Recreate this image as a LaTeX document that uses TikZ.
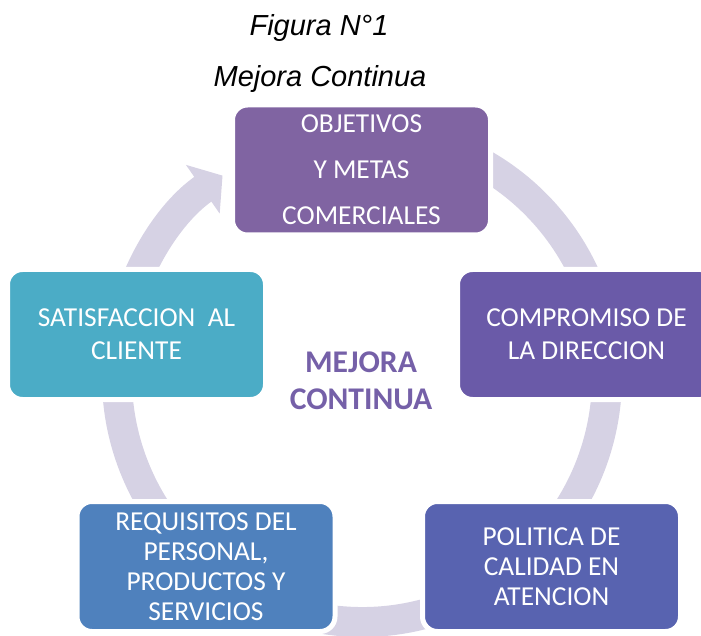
\documentclass[tikz,border=0pt]{standalone}
\usepackage{fontspec}
\setmainfont{Carlito}
\newfontfamily\titlefont{Liberation Sans}
\usetikzlibrary{arrows.meta}
\definecolor{objcol}{HTML}{8064A2}
\definecolor{compcol}{HTML}{6A5AA8}
\definecolor{polcol}{HTML}{5863B0}
\definecolor{reqcol}{HTML}{4F81BD}
\definecolor{satcol}{HTML}{4BACC6}
\definecolor{ringcol}{HTML}{D6D2E4}
\definecolor{mejcol}{HTML}{7560A8}
\begin{document}
\begin{tikzpicture}[x=0.5pt, y=-0.5pt,
    box/.style={draw=white, line width=2.5pt, rounded corners=7.5pt,
      minimum width=129pt, minimum height=65pt, inner sep=0pt,
      text=white, align=center, font=\fontsize{13.7}{16.5}\selectfont},
    ring/.style={draw=ringcol, line width=15pt,
      -{Triangle[length=12pt, width=29pt]}},
    title/.style={anchor=base, font=\titlefont\itshape\fontsize{14.5}{17}\selectfont}]
      \useasboundingbox (0,0) rectangle (701,636);
      \coordinate (ctr) at (362,377);
      % title
      \node[title] (fig) at (319,36) {Figura N°1};
      \node[title] (sub) at (320,87) {Mejora Continua};
      % ring
      \draw[ring] (ctr) ++(80:122.5pt) arc[start angle=80, end angle=-235.3, radius=122.5pt];
      % boxes
      \node[box, fill=objcol, font=\fontsize{13.7}{23}\selectfont] (obj) at (361.5,170) {OBJETIVOS\\Y METAS\\COMERCIALES};
      \node[box, fill=compcol] (comp) at (586.5,334.5) {COMPROMISO DE\\LA DIRECCION};
      \node[box, fill=polcol, font=\fontsize{13.7}{15}\selectfont] (pol) at (551.5,566.5) {POLITICA DE\\CALIDAD EN\\ATENCION};
      \node[box, fill=reqcol, font=\fontsize{13.7}{15}\selectfont] (req) at (206,566.5) {REQUISITOS DEL\\PERSONAL,\\PRODUCTOS Y\\SERVICIOS};
      \node[box, fill=satcol] (sat) at (136.5,334.5) {SATISFACCION\ \ AL\\CLIENTE};
      % centre
      \node[text=mejcol, align=center, font=\bfseries\fontsize{15.8}{18.5}\selectfont] (mej) at (361,381) {MEJORA\\CONTINUA};
    \end{tikzpicture}
\end{document}
